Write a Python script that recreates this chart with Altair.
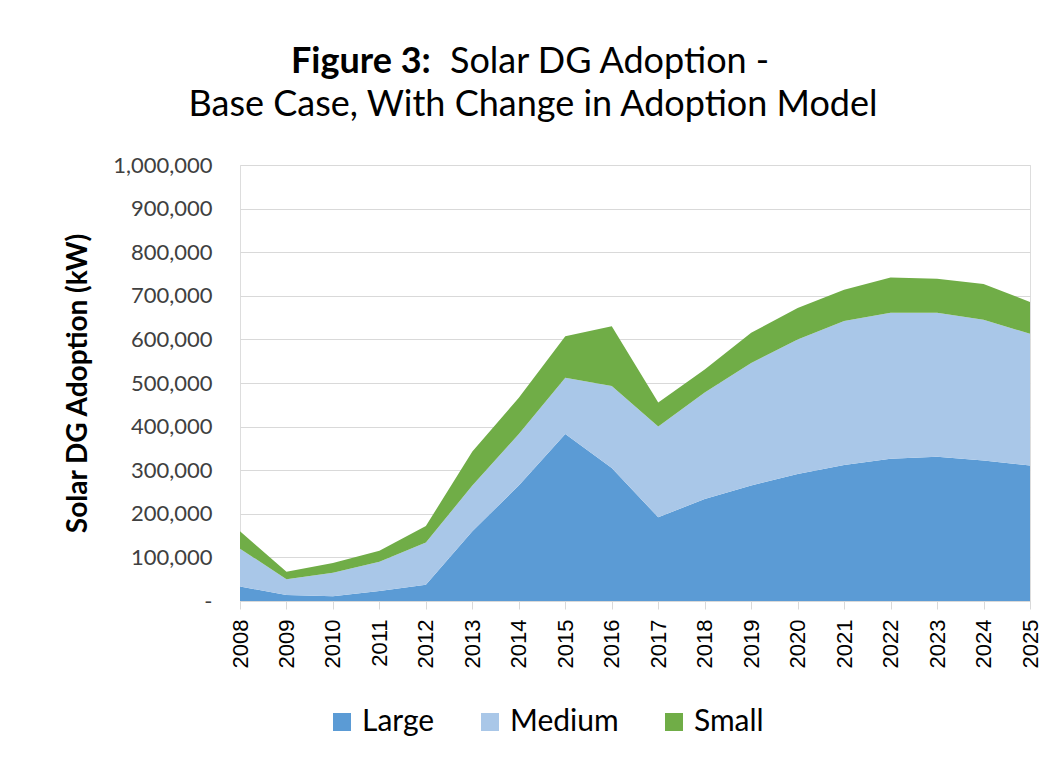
import altair as alt
import pandas as pd

years = list(range(2008, 2026))
large = [33000, 14000, 11000, 23000, 37000, 160000, 265000, 383000, 305000, 192000,
         234000, 265000, 291000, 312000, 326000, 331000, 322000, 311000]
medium = [87000, 36000, 54000, 67000, 97000, 105000, 118000, 129000, 188000, 208000,
          244000, 281000, 309000, 330000, 335000, 330000, 323000, 302000]
small = [40000, 17000, 22000, 25000, 38000, 78000, 83000, 95000, 137000, 55000,
         53000, 69000, 72000, 72000, 81000, 78000, 82000, 73000]

series = ["Large", "Medium", "Small"]
colors = ["#5b9bd5", "#a9c7e8", "#70ad47"]

rows = []
for i, y in enumerate(years):
    for k, (name, vals) in enumerate(zip(series, [large, medium, small])):
        rows.append({"Year": str(y), "Size": name, "kW": vals[i], "ord": k})
df = pd.DataFrame(rows)

FONT = "Lato"

area = alt.Chart(df).mark_area(opacity=1).encode(
    x=alt.X("Year:O", scale=alt.Scale(type="point", padding=0),
            axis=alt.Axis(title=None, labelAngle=-90, labelFont="Liberation Sans",
                          labelFontSize=22, labelColor="#000000", labelPadding=10,
                          tickSize=8, tickColor="#d9d9d9", domainColor="#d9d9d9",
                          labelAlign="right", labelBaseline="middle", grid=False)),
    y=alt.Y("kW:Q", stack="zero",
            scale=alt.Scale(domain=[0, 1000000], nice=False),
            axis=alt.Axis(title="Solar DG Adoption (kW)", values=list(range(0, 1000001, 100000)),
                          labelExpr="datum.value == 0 ? '-' : format(datum.value, ',')",
                          labelFont=FONT, labelFontSize=22, labelColor="#404040",
                          labelPadding=28, ticks=False, domain=False,
                          gridColor="#d9d9d9", gridWidth=1.2,
                          titleFont=FONT, titleFontSize=28, titleFontWeight="bold",
                          titleColor="#000000", titlePadding=20)),
    color=alt.Color("Size:N", scale=alt.Scale(domain=series, range=colors),
                    legend=alt.Legend(title=None, orient="none", legendX=87, legendY=542,
                                      direction="horizontal", symbolType="square",
                                      symbolSize=324, symbolStrokeWidth=0,
                                      labelFont=FONT, labelFontSize=30, labelColor="#000000",
                                      columnPadding=40, labelOffset=5, padding=0)),
    order=alt.Order("ord:Q", sort="ascending"),
)

t1 = alt.Chart(pd.DataFrame({"t": ["Figure 3:"]})).mark_text(
    font=FONT, fontSize=36, fontWeight="bold", align="left", baseline="alphabetic", color="#000000"
).encode(text="t:N", x=alt.value(51), y=alt.value(-92))
t2 = alt.Chart(pd.DataFrame({"t": ["Solar DG Adoption -"]})).mark_text(
    font=FONT, fontSize=36, align="left", baseline="alphabetic", color="#000000"
).encode(text="t:N", x=alt.value(210), y=alt.value(-92))
t3 = alt.Chart(pd.DataFrame({"t": ["Base Case, With Change in Adoption Model"]})).mark_text(
    font=FONT, fontSize=36, align="center", baseline="alphabetic", color="#000000"
).encode(text="t:N", x=alt.value(293), y=alt.value(-49))

chart = alt.layer(area, t1, t2, t3).properties(
    width=790, height=436,
    padding={"left": 56, "top": 36, "right": 0, "bottom": 6},
).configure_view(stroke=None).configure(background="#ffffff")

chart.save("out.html", embed_options={"renderer": "svg", "actions": False})
